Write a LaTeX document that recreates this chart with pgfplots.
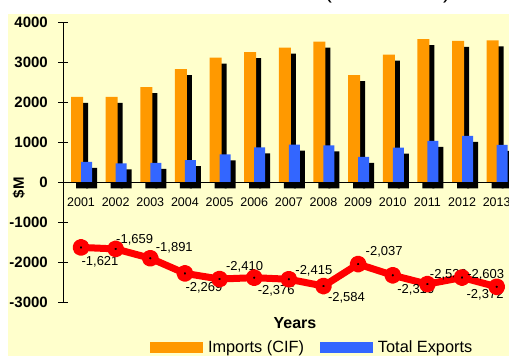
\documentclass[border=0pt]{standalone}
\usepackage{fontspec}
\setmainfont{Liberation Sans}
\usepackage{pgfplots}
\pgfplotsset{compat=1.18}
\usepackage{pgfplotstable}

\definecolor{bgyellow}{HTML}{FFFFCC}
\definecolor{impOrange}{HTML}{FF9900}
\definecolor{expBlue}{HTML}{3366FF}
\definecolor{balRed}{HTML}{FF0000}

% Imports (CIF) and total exports, $M
\pgfplotstableread{
x  imp   exp
0  2135  514
1  2133  474
2  2375  484
3  2825  556
4  3110  700
5  3250  874
6  3360  945
7  3510  926
8  2675  638
9  3185  869
10 3572  1036
11 3530  1158
12 3541  938
}\tradetable

% Trade balance, $M, with label offsets (bp)
\pgfplotstableread{
x  bal    dx   dy
0  -1621  19   -14
1  -1659  19   9.5
2  -1891  24   10
3  -2269  19   -14
4  -2410  25   12.5
5  -2376  22   -13
6  -2415  25   8.6
7  -2584  23   -12
8  -2037  26   12.5
9  -2316  23   -15
10 -2536  21   9.5
11 -2372  23   -17
12 -2603  -11  12
}\baltable

\begin{document}
\begin{tikzpicture}[x=1bp,y=1bp]
\fill[bgyellow] (8,0) rectangle (509,342);
\node[anchor=base west, inner sep=0pt, font=\fontsize{22bp}{22bp}\selectfont]
  at (176,357.8) {Trade Balance (US\$ Million)};
\begin{axis}[
  at={(63bp,53.3bp)}, anchor=south west,
  scale only axis, width=461.4bp, height=280.7bp,
  xmin=-0.52, xmax=12.8, ymin=-3000, ymax=4000,
  axis x line=middle, axis y line=left,
  axis line style={-, black, line width=1bp},
  axis on top,
  clip=false,
  xtick={0,...,12},
  xticklabels={2001,2002,2003,2004,2005,2006,2007,2008,2009,2010,2011,2012,2013},
  ytick={-3000,-2000,-1000,0,1000,2000,3000,4000},
  tick align=center, major tick length=10bp,
  x tick style={draw=none},
  y tick style={black, line width=1bp},
  /pgf/number format/assume math mode=true,
  y tick label style={/pgf/number format/1000 sep={},
    anchor=east, inner sep=0pt, xshift=-10bp,
    font=\fontsize{15bp}{15bp}\selectfont\bfseries},
  x tick label style={font=\fontsize{12.5bp}{12.5bp}\selectfont,
    anchor=center, yshift=-14.4bp},
  xlabel={Years},
  xlabel style={at={(axis description cs:0.5028,-0.0723)}, anchor=center,
    font=\fontsize{16bp}{16bp}\selectfont\bfseries},
  ylabel={\$M},
  ylabel style={at={(axis description cs:-0.0954,0.41)}, anchor=center,
    font=\fontsize{15bp}{15bp}\selectfont\bfseries},
  legend columns=2,
  legend style={at={(axis description cs:0.1886,-0.1596)}, anchor=west,
    draw=none, fill=none, inner sep=0pt, outer sep=0pt,
    font=\fontsize{16.3bp}{16.3bp}\selectfont,
    /tikz/every odd column/.append style={column sep=3bp},
    /tikz/every even column/.append style={column sep=14bp}},
]
% shadows behind the import bars
\addplot[ybar, bar width=12bp, bar shift=1bp, fill=black, draw=none,
  yshift=-6bp, forget plot] table[x=x, y=imp] {\tradetable};
\addplot[ybar, bar width=12bp, bar shift=-4bp, fill=impOrange, draw=none,
  legend image code/.code={\fill[impOrange] (0bp,-5.5bp) rectangle (53bp,5.5bp);}]
  table[x=x, y=imp] {\tradetable};
\addlegendentry{Imports (CIF)}
% shadows behind the export bars
\addplot[ybar, bar width=11bp, bar shift=10.5bp, fill=black, draw=none,
  yshift=-6bp, forget plot] table[x=x, y=exp] {\tradetable};
\addplot[ybar, bar width=11bp, bar shift=5.5bp, fill=expBlue, draw=none,
  legend image code/.code={\fill[expBlue] (0bp,-5.5bp) rectangle (53bp,5.5bp);}]
  table[x=x, y=exp] {\tradetable};
\addlegendentry{Total Exports}
% trade balance line
\addplot[balRed, line width=7bp, line join=round, line cap=round,
  mark=*, mark size=5bp, mark options={fill=black, draw=none},
  forget plot,
  point meta=y,
  visualization depends on={\thisrow{dx} \as \lbldx},
  visualization depends on={\thisrow{dy} \as \lbldy},
  nodes near coords={\pgfmathprintnumber[fixed, precision=0, 1000 sep={,}]{\pgfplotspointmeta}},
  every node near coord/.append style={anchor=center, black,
    font=\fontsize{13bp}{13bp}\selectfont, xshift=\lbldx*1bp, yshift=\lbldy*1bp},
] table[x=x, y=bal] {\baltable};
\end{axis}
\pgfresetboundingbox
\useasboundingbox (0,0) rectangle (509,356);
\end{tikzpicture}
\end{document}
